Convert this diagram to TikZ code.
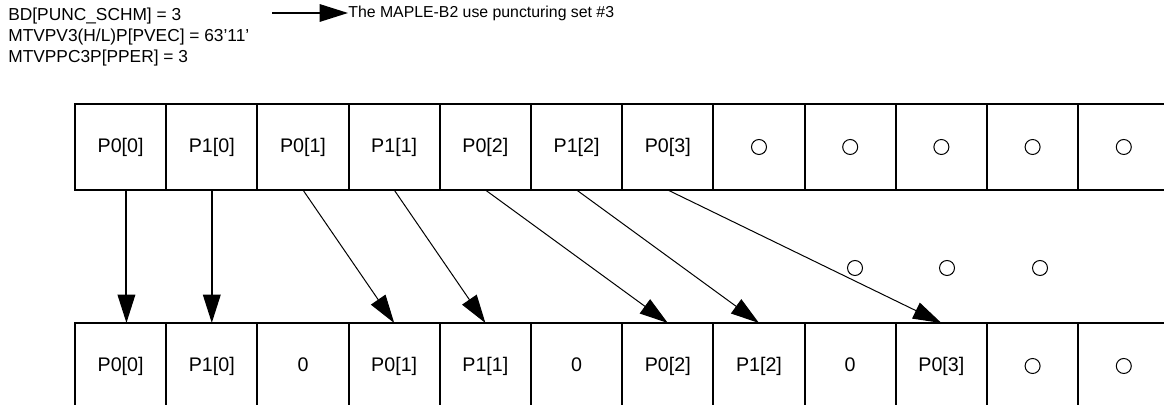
\documentclass[tikz,border=0pt]{standalone}
\usepackage{fontspec}
\setmainfont{Liberation Sans}
\usetikzlibrary{positioning,arrows.meta}

\begin{document}
\begin{tikzpicture}[
  x=0.6pt,y=-0.6pt,
  cell/.style={draw,line width=1.2pt,minimum width=54.72pt,minimum height=51.6pt,inner sep=0pt,outer sep=0pt,
    text height=8.6pt,text depth=2.4pt,font=\fontsize{11.8}{14}\selectfont},
  ring/.style={draw,circle,line width=0.6pt,minimum size=9pt,inner sep=0pt},
  hdr/.style={align=left,inner sep=0pt,font=\fontsize{10.4}{11.4}\selectfont},
  fwd/.style={-{Triangle[length=17pt,width=10.5pt]}}
]
\useasboundingbox (0,0) rectangle (1164,405);
\clip (0,0) rectangle (1164,405);

% settings and note
\node[hdr,anchor=north west] (cfg) at (8,8) {BD[PUNC\_SCHM] = 3\\[1.2pt]MTVPV3(H/L)P[PVEC] = 63’11’\\[1.2pt]MTVPPC3P[PPER] = 3};
\coordinate (from) at (272,13);
\node[hdr,anchor=west,font=\fontsize{9.5}{11}\selectfont] (note) at (348,13) {The MAPLE-B2 use puncturing set \#3};
\draw[fwd,line width=0.9pt] (from) -- (note.west);

% input row
\node[cell,anchor=north west] (t1) at (75,104) {P0[0]};
\foreach \lab [count=\i from 2] in {P1[0],P0[1],P1[1],P0[2],P1[2],P0[3],{},{},{},{},{}} {
  \pgfmathtruncatemacro\j{\i-1}
  \node[cell,right=0pt of t\j] (t\i) {\lab};
}
\foreach \k in {8,...,12} \node[ring] (r\k) at (t\k) {};

% punctured bits
\node[ring] (m1) at (855,268) {};
\node[ring] (m2) at (947,268) {};
\node[ring] (m3) at (1040,268) {};

% output row
\node[cell,anchor=north west] (b1) at (75,323) {P0[0]};
\foreach \lab [count=\i from 2] in {P1[0],0,P0[1],P1[1],0,P0[2],P1[2],0,P0[3],{},{}} {
  \pgfmathtruncatemacro\j{\i-1}
  \node[cell,right=0pt of b\j] (b\i) {\lab};
}
\foreach \k in {11,12} \node[ring] (s\k) at (b\k) {};

% mapping
\draw[fwd,line width=1.2pt] ([xshift=3.5pt]t1.south) -- ([xshift=3.5pt]b1.north);
\draw[fwd,line width=1.2pt] (t2.south) -- (b2.north);
\foreach \a/\b in {3/4,4/5,5/7,6/8,7/10}
  \draw[fwd,line width=0.6pt] (t\a.south) -- (b\b.north);
\end{tikzpicture}
\end{document}
